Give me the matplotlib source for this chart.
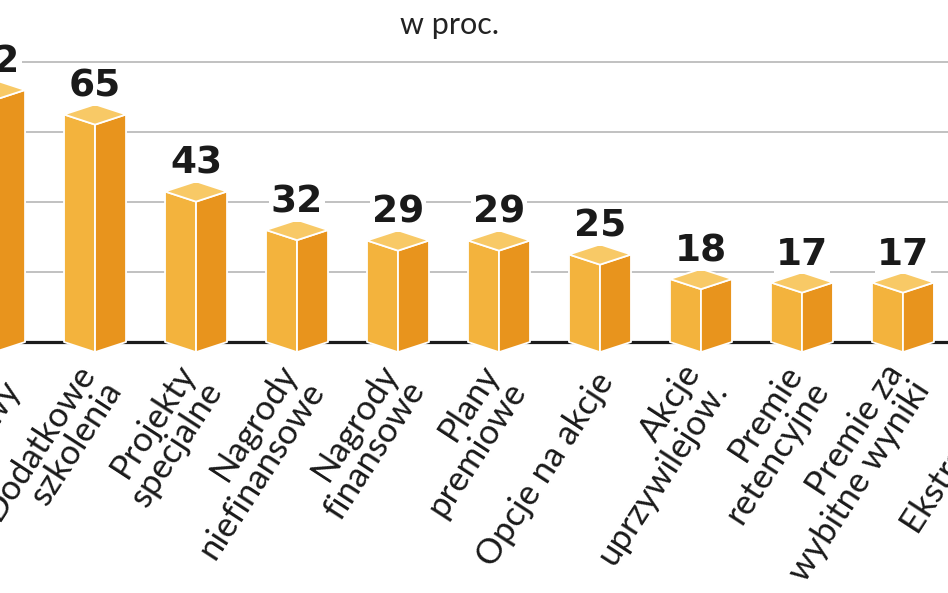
import matplotlib.pyplot as plt
from matplotlib.patches import Polygon

# dane (wykres jest przyciety z lewej i prawej strony)
kategorie = ["Rozwój\nzawodowy", "Dodatkowe\nszkolenia", "Projekty\nspecjalne",
             "Nagrody\nniefinansowe", "Nagrody\nfinansowe", "Plany\npremiowe",
             "Opcje na akcje", "Akcje\nuprzywilejow.", "Premie\nretencyjne",
             "Premie za\nwybitne wyniki", "Ekstra urlop"]
wartosci = [72, 65, 43, 32, 29, 29, 25, 18, 17, 17, 15]
siatka = [20, 40, 60, 80]

kolor_lewy = '#f3b33d'
kolor_prawy = '#e8941d'
kolor_gora = '#f8c966'

fig = plt.figure(figsize=(9.48, 5.93), dpi=100)
ax = fig.add_axes([0, 0, 1, 1])
ax.set_xlim(0.059, 9.446)
ax.set_ylim(-71.7, 97.7)
ax.axis('off')

for g in siatka:
    ax.axhline(g, color='#b0b0b0', lw=1.1, zorder=0)
ax.axhline(0, color='#1c1c1c', lw=2.3, zorder=1)

w = 0.307   # pol szerokosci slupka
d = 2.9     # "glebokosc" daszka

for i, v in enumerate(wartosci):
    c = i
    lewa = [(c - w, 0), (c, -d), (c, v - d), (c - w, v)]
    prawa = [(c, -d), (c + w, 0), (c + w, v), (c, v - d)]
    gora = [(c - w, v), (c, v - d), (c + w, v), (c, v + d)]
    for pts, kol in [(lewa, kolor_lewy), (prawa, kolor_prawy), (gora, kolor_gora)]:
        ax.add_patch(Polygon(pts, closed=True, facecolor=kol, edgecolor='white',
                             lw=1.3, joinstyle='round', zorder=3))
    ax.text(c, v + d + 2.2, str(v), ha='center', va='baseline', fontsize=27,
            fontweight='bold', color='#1a1a1a', zorder=4,
            bbox=dict(facecolor='white', edgecolor='none', pad=1))
    ax.text(c + 0.06, -9.7, kategorie[i], rotation=57, rotation_mode='anchor',
            ha='right', va='center', multialignment='right', linespacing=1.0,
            fontsize=25, family='Lato', color='#1a1a1a', zorder=4)

fig.text(0.474, 1 - 25 / 593, 'w proc.', ha='center', va='center',
         fontsize=22, family='Lato', color='#222222')

fig.savefig('out.png', dpi=100)
